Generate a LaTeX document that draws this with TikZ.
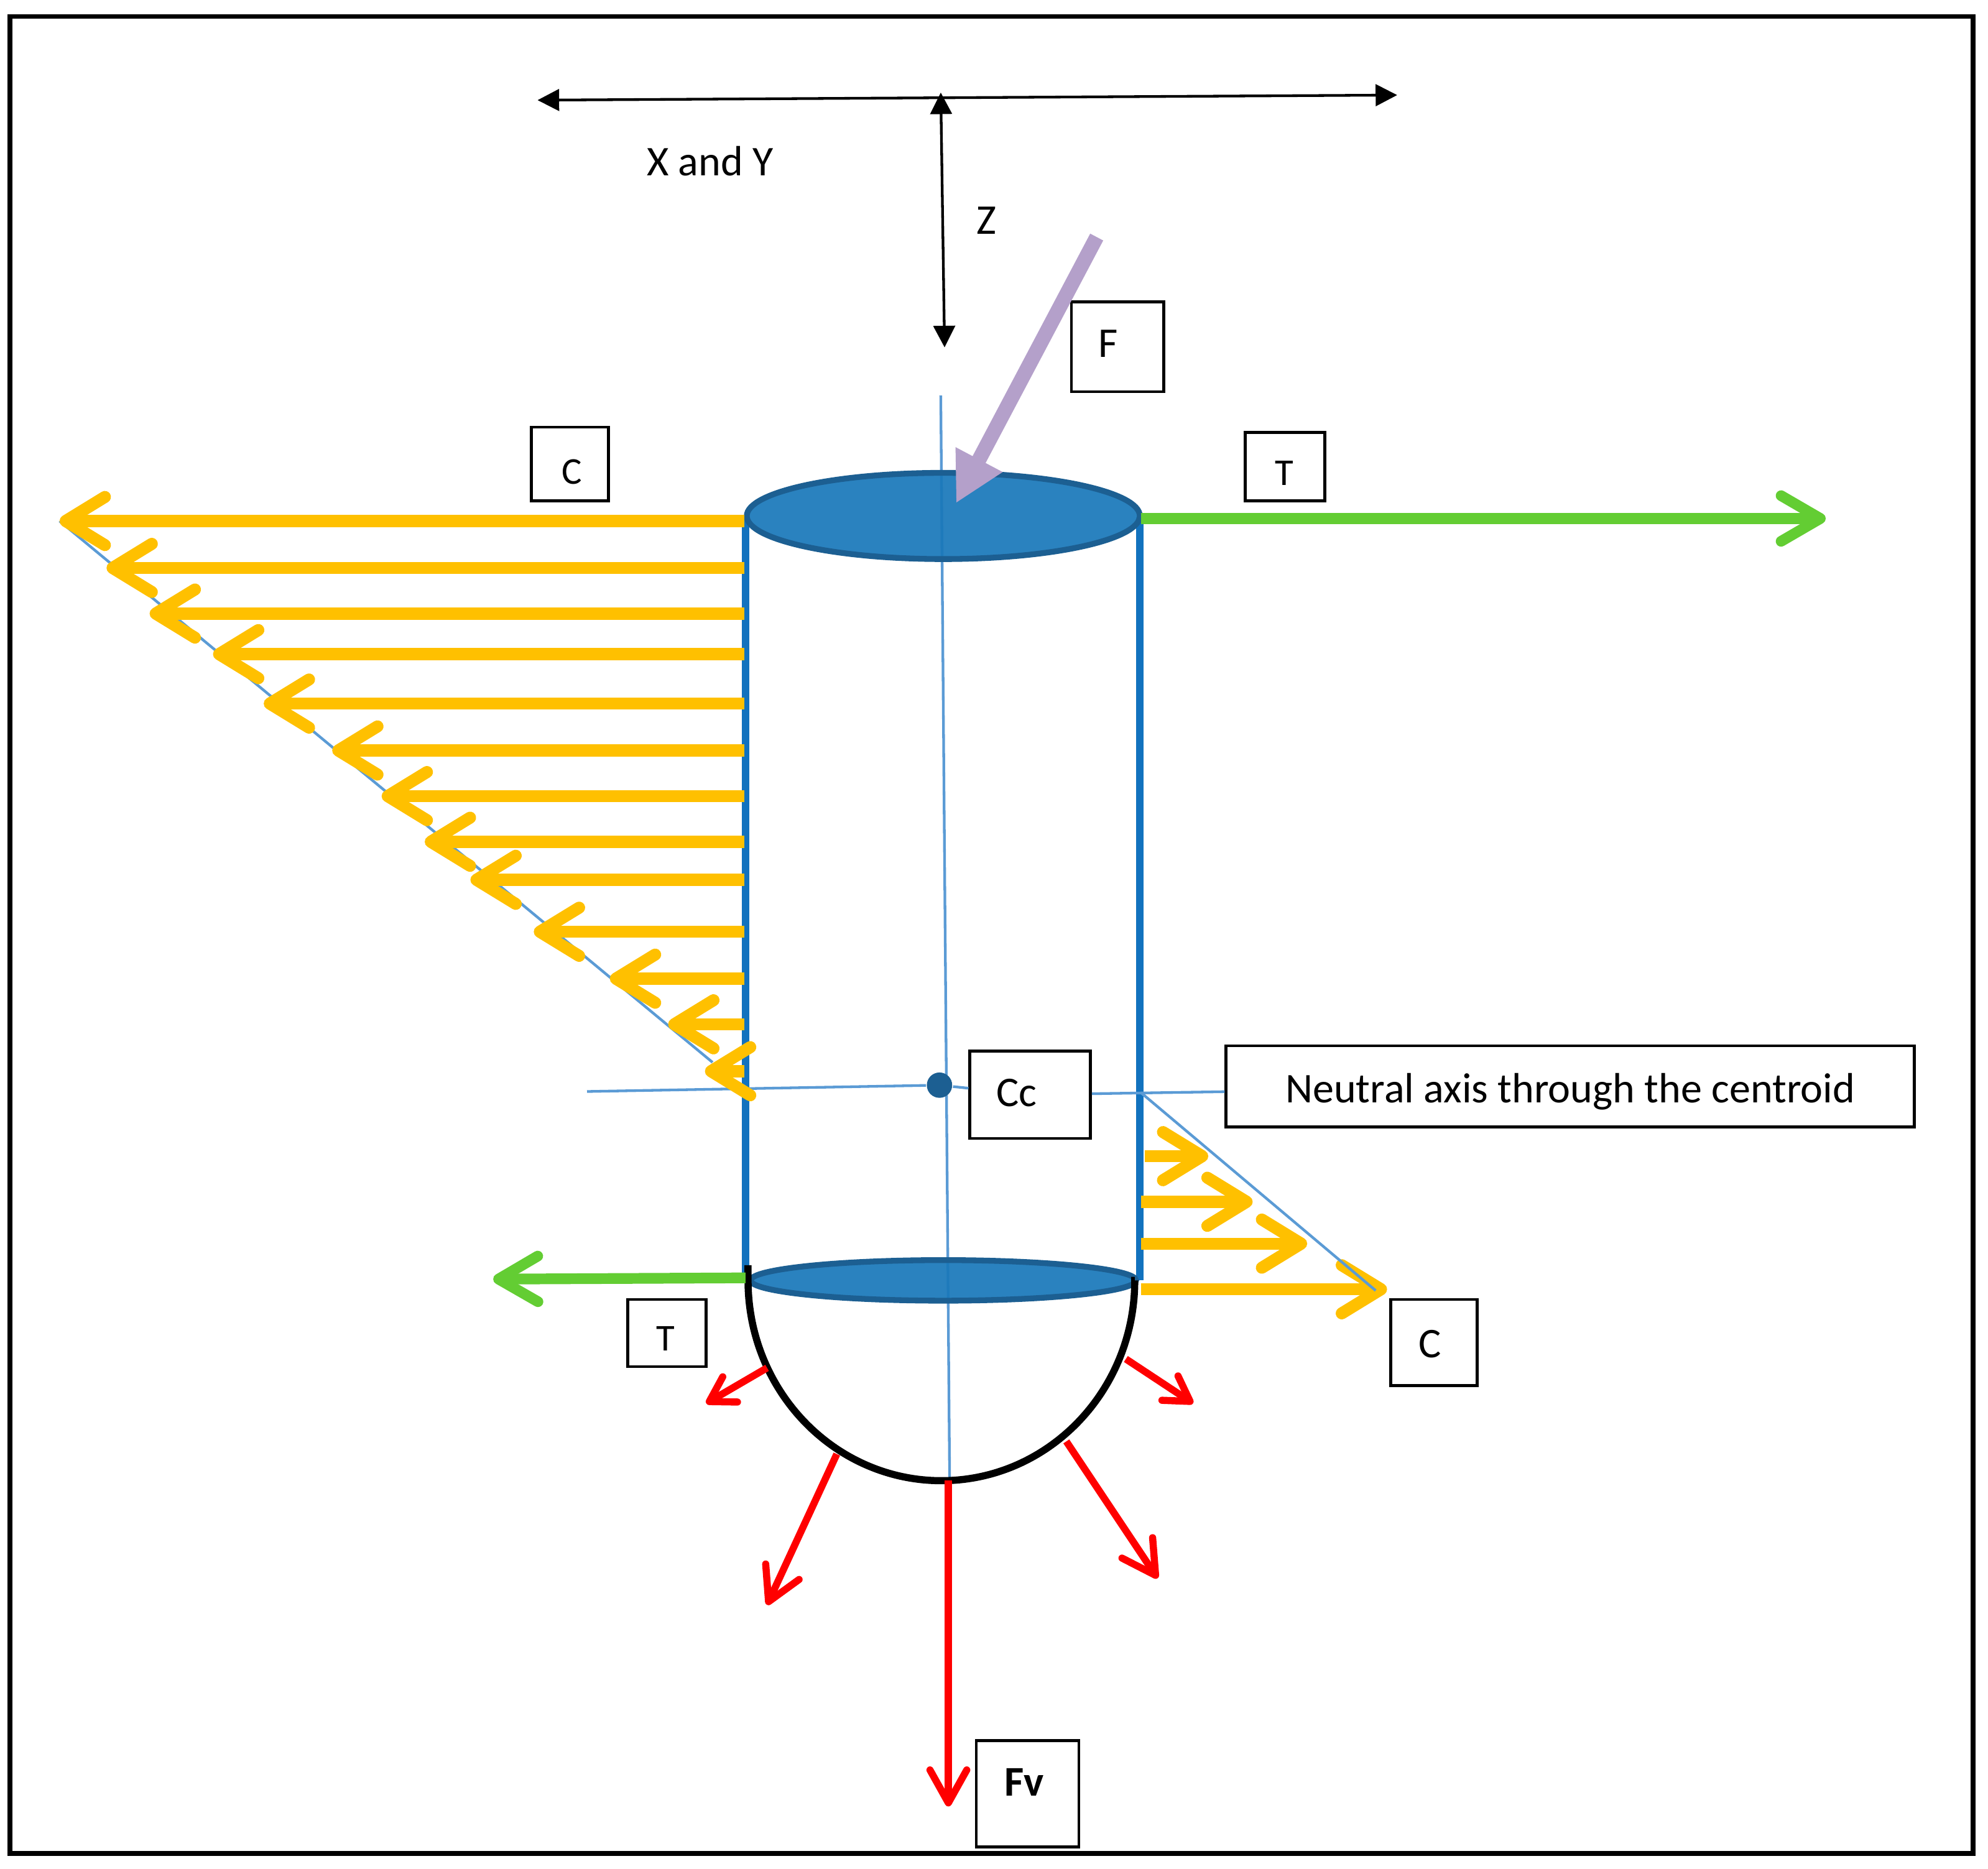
\documentclass[tikz,border=0pt]{standalone}
\usepackage{fontspec}
\setmainfont{Carlito}
\usetikzlibrary{arrows.meta}
\definecolor{wallblue}{RGB}{18,114,190}
\definecolor{capblue}{RGB}{26,120,186}
\definecolor{capedge}{RGB}{28,95,146}
\definecolor{axisblue}{RGB}{91,155,213}
\definecolor{loadorange}{RGB}{255,192,0}
\definecolor{loadgreen}{RGB}{99,205,51}
\definecolor{forcepurple}{RGB}{180,160,202}
\tikzset{
    pusharrow/.style={draw=loadorange,line width=2.7pt,-{Straight Barb[length=3.1mm,width=3.8mm,round]}},
    pullarrow/.style={draw=loadgreen,line width=2.4pt,-{Straight Barb[length=3.1mm,width=3.6mm,round]}},
    pressarrow/.style={draw=red,line width=1.6pt,-{Straight Barb[length=2.6mm,width=2.9mm,round]}},
    shortpress/.style={draw=red,line width=1.6pt,-{Straight Barb[length=1.9mm,width=2.3mm,round]}},
    axisline/.style={draw=axisblue,line width=.6pt},
    dimline/.style={draw=black,line width=.6pt,{Triangle[length=1.7mm,width=1.7mm]}-{Triangle[length=1.7mm,width=1.7mm]}},
    wallline/.style={draw=wallblue,line width=1.6pt},
    endcap/.style={draw=capedge,fill=capblue,line width=1.3pt,fill opacity=.93},
    labelbox/.style={draw=black,fill=white,line width=.65pt,inner sep=0pt},
    labeltext/.style={inner sep=0pt,font=\fontsize{9.5}{12}\selectfont},
    smalltext/.style={inner sep=0pt,font=\fontsize{8.5}{10}\selectfont}
}
\begin{document}
\begin{tikzpicture}
    \useasboundingbox (0,0) rectangle (15.68,14.74);
    \draw[black,line width=1.1pt] (.08,.12) rectangle (15.56,14.61);

    % axes at the top
    \draw[dimline] (4.24,13.95) -- (11.02,13.99);
    \draw[dimline] (7.42,14.01) -- (7.45,12.00);
    \node[labeltext] (xylabel) at (5.60,13.47) {X and Y};
    \node[labeltext] (zlabel) at (7.78,13.00) {Z};

    % centre line and neutral axis
    \coordinate (axistop) at (7.42,11.62);
    \coordinate (axisbottom) at (7.49,3.06);
    \draw[axisline] (axistop) -- (axisbottom);

    % cylinder
    \draw[wallline] (5.88,10.66) -- (5.88,4.64);
    \draw[wallline] (8.99,10.66) -- (8.99,4.64);
    \draw[endcap] (7.44,10.67) ellipse (1.55 and .34);
    \draw[endcap] (7.44,4.64) ellipse (1.52 and .16);
    \draw[black,line width=1.6pt] (5.90,4.76) -- (5.90,4.64) arc[start angle=180,end angle=360,x radius=1.525,y radius=1.58] -- (8.95,4.64);

    % boxes
    \node[labelbox,minimum width=.61cm,minimum height=.58cm] (ctopbox) at (4.495,11.08) {};
    \node[smalltext] (ctoplabel) at (4.51,11.02) {C};
    \node[labelbox,minimum width=.73cm,minimum height=.71cm] (fbox) at (8.815,12.005) {};
    \node[labeltext] (flabel) at (8.74,12.03) {F};
    \node[labelbox,minimum width=.63cm,minimum height=.54cm] (ttopbox) at (10.135,11.06) {};
    \node[smalltext] (ttoplabel) at (10.13,11.01) {T};
    \node[labelbox,minimum width=.95cm,minimum height=.69cm] (ccbox) at (8.125,6.105) {};
    \node[labeltext] (cclabel) at (8.02,6.12) {Cc};
    \node[labelbox,minimum width=5.43cm,minimum height=.64cm,labeltext,text height=.34cm,text depth=.08cm] (neutralbox) at (12.385,6.17) {Neutral axis through the centroid};
    \node[labelbox,minimum width=.62cm,minimum height=.53cm] (tlowbox) at (5.26,4.225) {};
    \node[smalltext] (tlowlabel) at (5.25,4.18) {T};
    \node[labelbox,minimum width=.68cm,minimum height=.68cm] (clowbox) at (11.31,4.15) {};
    \node[labeltext] (clowlabel) at (11.28,4.14) {C};
    \node[labelbox,minimum width=.81cm,minimum height=.84cm] (fvbox) at (8.105,.59) {};
    \node[labeltext,font=\fontsize{9.5}{12}\selectfont\bfseries] (fvlabel) at (8.08,.68) {Fv};

    % neutral axis
    \coordinate (naleft) at (4.63,6.13);
    \node[circle,fill=capedge,inner sep=0pt,minimum size=.2cm] (centroid) at (7.41,6.18) {};
    \draw[axisline] (naleft) -- (centroid);
    \draw[axisline] (centroid) -- (ccbox);
    \draw[axisline] (ccbox) -- (neutralbox);

    % stress line, left side
    \draw[axisline] (.47,10.63) -- (5.62,6.36);

    % compression, left side
    \draw[pusharrow] (5.87,10.63) -- (.47,10.63);
    \draw[pusharrow] (5.87,10.26) -- (.84,10.26);
    \draw[pusharrow] (5.87,9.90) -- (1.18,9.90);
    \draw[pusharrow] (5.87,9.58) -- (1.68,9.58);
    \draw[pusharrow] (5.87,9.19) -- (2.08,9.19);
    \draw[pusharrow] (5.87,8.82) -- (2.62,8.82);
    \draw[pusharrow] (5.87,8.46) -- (3.01,8.46);
    \draw[pusharrow] (5.87,8.10) -- (3.35,8.10);
    \draw[pusharrow] (5.87,7.80) -- (3.71,7.80);
    \draw[pusharrow] (5.87,7.39) -- (4.21,7.39);
    \draw[pusharrow] (5.87,7.02) -- (4.81,7.02);
    \draw[pusharrow] (5.87,6.66) -- (5.27,6.66);
    \draw[pusharrow] (5.87,6.29) -- (5.56,6.29);

    % compression, right side
    \draw[pusharrow] (9.03,5.62) -- (9.53,5.62);
    \draw[pusharrow] (9.00,5.26) -- (9.88,5.26);
    \draw[pusharrow] (9.00,4.93) -- (10.31,4.93);
    \draw[pusharrow] (9.00,4.57) -- (10.94,4.57);

    % stress line, right side
    \draw[axisline] (9.00,6.12) -- (10.85,4.56);

    % tension
    \draw[pullarrow] (9.00,10.65) -- (14.40,10.65);
    \draw[pullarrow] (5.88,4.66) -- (3.89,4.65);

    % load on the top
    \draw[forcepurple,line width=3.3pt,-{Triangle[length=3.9mm,width=3.9mm]}] (8.65,12.87) -- (7.54,10.77);

    % pressure on the bowl
    \draw[pressarrow] (7.48,3.06) -- (7.48,.49);
    \draw[pressarrow] (6.60,3.27) -- (6.05,2.08);
    \draw[pressarrow] (8.41,3.37) -- (9.13,2.29);
    \draw[shortpress] (6.05,3.95) -- (5.57,3.67);
    \draw[shortpress] (8.88,4.02) -- (9.41,3.67);
\end{tikzpicture}
\end{document}
